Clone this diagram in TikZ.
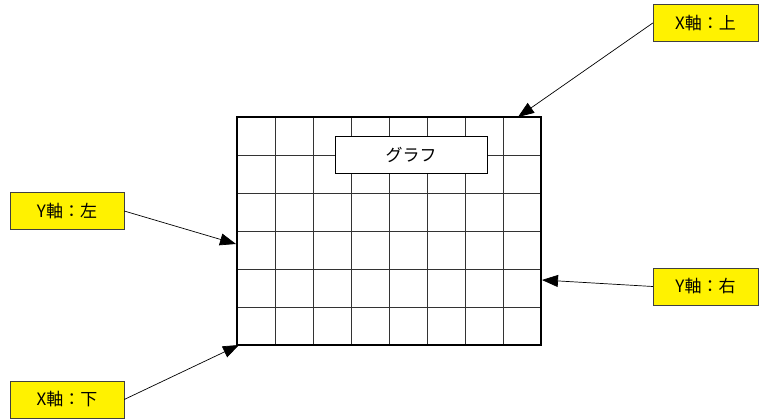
\documentclass[tikz,border=0pt]{standalone}
\usepackage{fontspec}
\setmainfont{Noto Sans CJK JP}
\usetikzlibrary{arrows.meta}

\tikzset{
  axislabel/.style={draw=black!75, fill=yellow, inner sep=0pt, minimum height=37pt,
    font=\fontsize{17}{17}\selectfont},
  pointer/.style={-{Triangle[length=16pt,width=12pt]}, line width=0.7pt},
  gridline/.style={line width=0.7pt, black!80}
}

\begin{document}
\begin{tikzpicture}[x=1pt, y=-1pt]
  \useasboundingbox (0,0) rectangle (759,419);

  % Grid
  \foreach \x in {275,313,...,503}
    \draw[gridline] (\x,117) -- (\x,345);
  \foreach \y in {155,193,...,307}
    \draw[gridline] (237,\y) -- (541,\y);
  \draw[line width=2.6pt] (237,117) rectangle (541,345);

  % Title
  \node[draw, fill=white, line width=0.7pt, minimum width=152pt, minimum height=37pt,
    inner sep=0pt, font=\fontsize{17}{17}\selectfont] (title) at (411,154.5) {グラフ};

  % Axis labels
  \node[axislabel, minimum width=105pt] (xtop) at (705.5,23) {X軸：上};
  \node[axislabel, minimum width=114pt] (yleft) at (67,211) {Y軸：左};
  \node[axislabel, minimum width=105pt] (yright) at (705.5,286.5) {Y軸：右};
  \node[axislabel, minimum width=114pt] (xbottom) at (67,399.5) {X軸：下};

  % Pointers
  \coordinate (xtopend) at (518,117);
  \coordinate (yleftend) at (236,244);
  \coordinate (yrightend) at (542,280);
  \coordinate (xbottomend) at (239,345);
  \draw[pointer] (xtop.west) -- (xtopend);
  \draw[pointer] (yleft.east) -- (yleftend);
  \draw[pointer] (yright.west) -- (yrightend);
  \draw[pointer] (xbottom.east) -- (xbottomend);
\end{tikzpicture}
\end{document}
